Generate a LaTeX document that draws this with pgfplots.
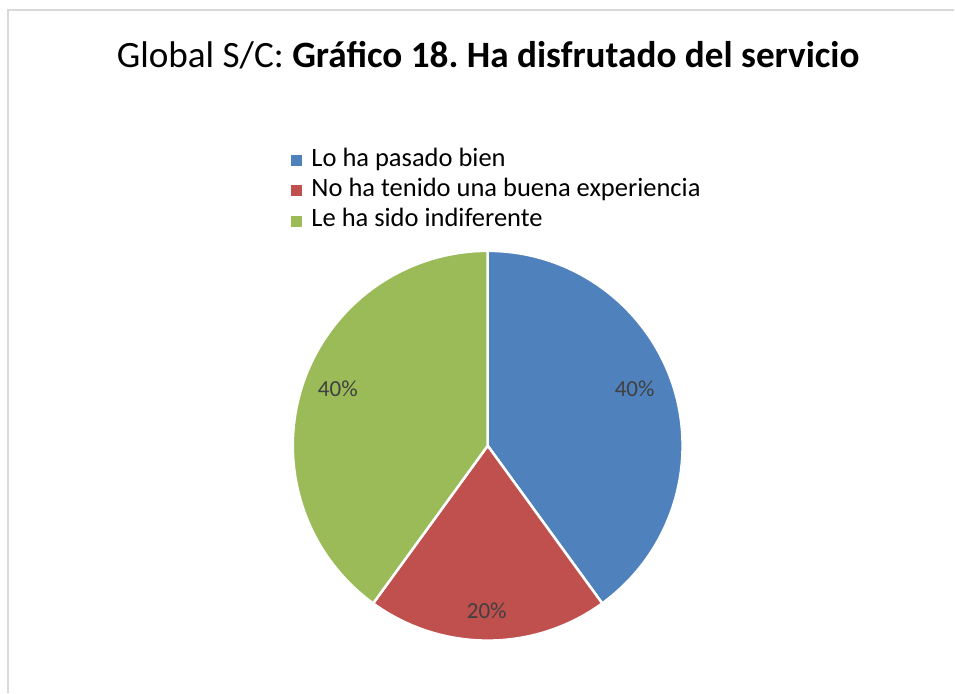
\documentclass[border=0pt]{standalone}
\usepackage{pgfplots}
\usepackage{pgfplotstable}
\pgfplotsset{compat=1.18}
\usepackage{fontspec}
\setmainfont{Carlito}
\frenchspacing
\definecolor{cA}{HTML}{4F81BD}
\definecolor{cB}{HTML}{C0504D}
\definecolor{cC}{HTML}{9BBB59}
\definecolor{lbl}{HTML}{404040}
\pgfplotstableread{
label value
A 40
B 20
C 40
}\piedata
\begin{document}
\begin{tikzpicture}
\pgfplotstablegetelem{0}{value}\of\piedata \let\va\pgfplotsretval
\pgfplotstablegetelem{1}{value}\of\piedata \let\vb\pgfplotsretval
\pgfplotstablegetelem{2}{value}\of\piedata \let\vc\pgfplotsretval
\pgfmathsetmacro\tot{\va+\vb+\vc}
\pgfmathsetmacro\aA{90}
\pgfmathsetmacro\aB{\aA-360*\va/\tot}
\pgfmathsetmacro\aC{\aB-360*\vb/\tot}
\pgfmathsetmacro\aD{\aC-360*\vc/\tot}
\pgfmathtruncatemacro\pa{round(100*\va/\tot)}
\pgfmathtruncatemacro\pb{round(100*\vb/\tot)}
\pgfmathtruncatemacro\pc{round(100*\vc/\tot)}
% canvas
\path[fill=white] (0,0) rectangle (955bp,693bp);
\draw[color={rgb,255:red,217;green,217;blue,217}, line width=1.2bp] (8bp,0) -- (8bp,683bp) -- (955bp,683bp);
% title
\node[font=\fontsize{37.2bp}{44bp}\selectfont, anchor=center] at (488.5bp,638bp) {Global S/C: \textbf{Gráfico 18. Ha disfrutado del servicio}};
\begin{axis}[
  at={(488bp,247bp)}, anchor=center,
  scale only axis, width=390bp, height=390bp,
  xmin=-1, xmax=1, ymin=-1, ymax=1,
  hide axis, clip=false,
  legend cell align=left,
  legend style={draw=none, fill=none, at={(-0.005,1.272)}, anchor=north west,
    font=\fontsize{26.5bp}{30bp}\selectfont, inner sep=0pt, row sep=0.5bp,
    nodes={text height=18bp, text depth=6bp, inner sep=3bp},
    /tikz/every odd column/.append style={column sep=7bp}},
]
\addlegendimage{legend image code/.code={\fill[cA] (0bp,-5bp) rectangle (10bp,5bp);}}
\addlegendentry{Lo ha pasado bien}
\addlegendimage{legend image code/.code={\fill[cB] (0bp,-5bp) rectangle (10bp,5bp);}}
\addlegendentry{No ha tenido una buena experiencia}
\addlegendimage{legend image code/.code={\fill[cC] (0bp,-5bp) rectangle (10bp,5bp);}}
\addlegendentry{Le ha sido indiferente}
\filldraw[fill=cA, draw=white, line width=2.5bp] (axis cs:0,0) -- (axis cs:{cos(\aA)},{sin(\aA)}) arc[start angle=\aA, end angle=\aB, radius=1] -- cycle;
\filldraw[fill=cB, draw=white, line width=2.5bp] (axis cs:0,0) -- (axis cs:{cos(\aB)},{sin(\aB)}) arc[start angle=\aB, end angle=\aC, radius=1] -- cycle;
\filldraw[fill=cC, draw=white, line width=2.5bp] (axis cs:0,0) -- (axis cs:{cos(\aC)},{sin(\aC)}) arc[start angle=\aC, end angle=\aD, radius=1] -- cycle;
\node[text=lbl, font=\fontsize{23bp}{27bp}\selectfont] at (axis cs:0.754,0.292) {\pa\%};
\node[text=lbl, font=\fontsize{23bp}{27bp}\selectfont] at (axis cs:-0.005,-0.846) {\pb\%};
\node[text=lbl, font=\fontsize{23bp}{27bp}\selectfont] at (axis cs:-0.769,0.292) {\pc\%};
\end{axis}
\end{tikzpicture}
\end{document}
